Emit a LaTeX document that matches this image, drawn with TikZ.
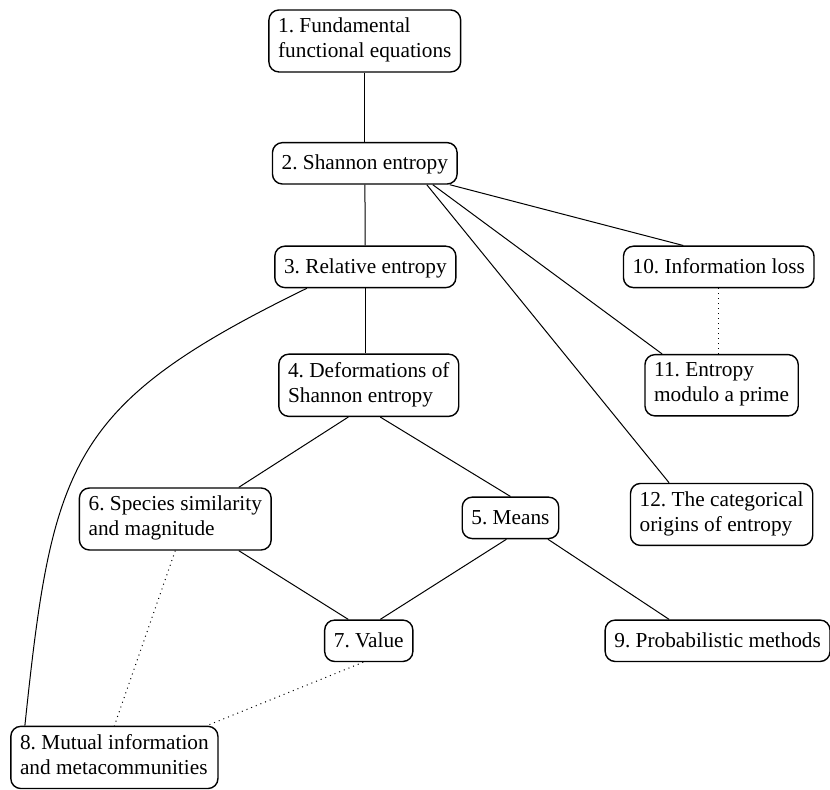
\documentclass[tikz,border=0pt]{standalone}
\usepackage{fontspec}
\setmainfont{Liberation Serif}
\frenchspacing

\begin{document}
\begin{tikzpicture}[
    % GLOBAL CFG
    font=\fontsize{10.65}{12.5}\selectfont,
    % Styles
    topic/.style={% For the chapter boxes
        rectangle,
        rounded corners=5pt,
        draw,
        line width=.7pt,
        align=left,
        inner xsep=4.6pt,
        inner ysep=4pt,
        execute at begin node=\rule{0pt}{9.6pt},
        execute at end node=\rule[-3.1pt]{0pt}{3.1pt},
        },
    link/.style={% Plain dependencies
        line width=.5pt,
        },
    weak/.style={% Partial dependencies
        dotted,
        line width=.5pt,
        },
    ]

    % Fix the page size
    \useasboundingbox (0,0) rectangle (14.585,-13.865);

%Start drawing the thing...
    % Draw the chapters:
    \node [topic] (fund) at (6.41,-0.72) {1. Fundamental\\functional equations};
    \node [topic] (shannon) at (6.41,-2.87) {2. Shannon entropy};
    \node [topic] (relative) at (6.42,-4.69) {3. Relative entropy};
    \node [topic] (deform) at (6.48,-6.77) {4. Deformations of\\Shannon entropy};
    \node [topic] (means) at (8.97,-9.10) {5. Means};
    \node [topic] (species) at (3.08,-9.12) {6. Species similarity\\and magnitude};
    \node [topic] (value) at (6.48,-11.26) {7. Value};
    \node [topic] (mutual) at (2.01,-13.31) {8. Mutual information\\and metacommunities};
    \node [topic] (prob) at (12.61,-11.26) {9. Probabilistic methods};
    \node [topic] (infoloss) at (12.63,-4.69) {10. Information loss};
    \node [topic] (modp) at (12.68,-6.77) {11. Entropy\\modulo a prime};
    \node [topic] (categ) at (12.68,-9.04) {12. The categorical\\origins of entropy};

% Start connecting all.
    % Main spine
    \draw [link] (fund) -- (shannon);
    \draw [link] (shannon) -- (relative);
    \draw [link] (relative.south) -- (relative.south |- deform.north);

    % Out of Shannon entropy
    \draw [link] ([xshift=42.5pt]shannon.south) -- ([xshift=-17.75pt]infoloss.north);
    \draw [link] ([xshift=34pt]shannon.south) -- ([xshift=-29.75pt]modp.north);
    \draw [link] ([xshift=31pt]shannon.south) -- ([xshift=-26.25pt]categ.north);

    % The diamond
    \draw [link] ([xshift=-10.25pt]deform.south) -- ([xshift=31.75pt]species.north);
    \draw [link] ([xshift=5.75pt]deform.south) -- (means.north);
    \draw [link] ([xshift=31.75pt]species.south) -- ([xshift=-10.25pt]value.north);
    \draw [link] ([xshift=-2pt]means.south) -- ([xshift=5.75pt]value.north);
    \draw [link] ([xshift=18.75pt]means.south) -- ([xshift=-24.25pt]prob.north);

    % Relative entropy down to chapter 8
    \draw [link] ([xshift=-29.25pt]relative.south) to [out=206, in=84, looseness=1.3] ([xshift=-44.75pt]mutual.north);

    % Dotted ones
    \draw [weak] (infoloss.south) -- (infoloss.south |- modp.north);
    \draw [weak] (species.south) -- (mutual.north);
    \draw [weak] ([xshift=-2.75pt]value.south) -- ([xshift=46.25pt]mutual.north);
\end{tikzpicture}
\end{document}
